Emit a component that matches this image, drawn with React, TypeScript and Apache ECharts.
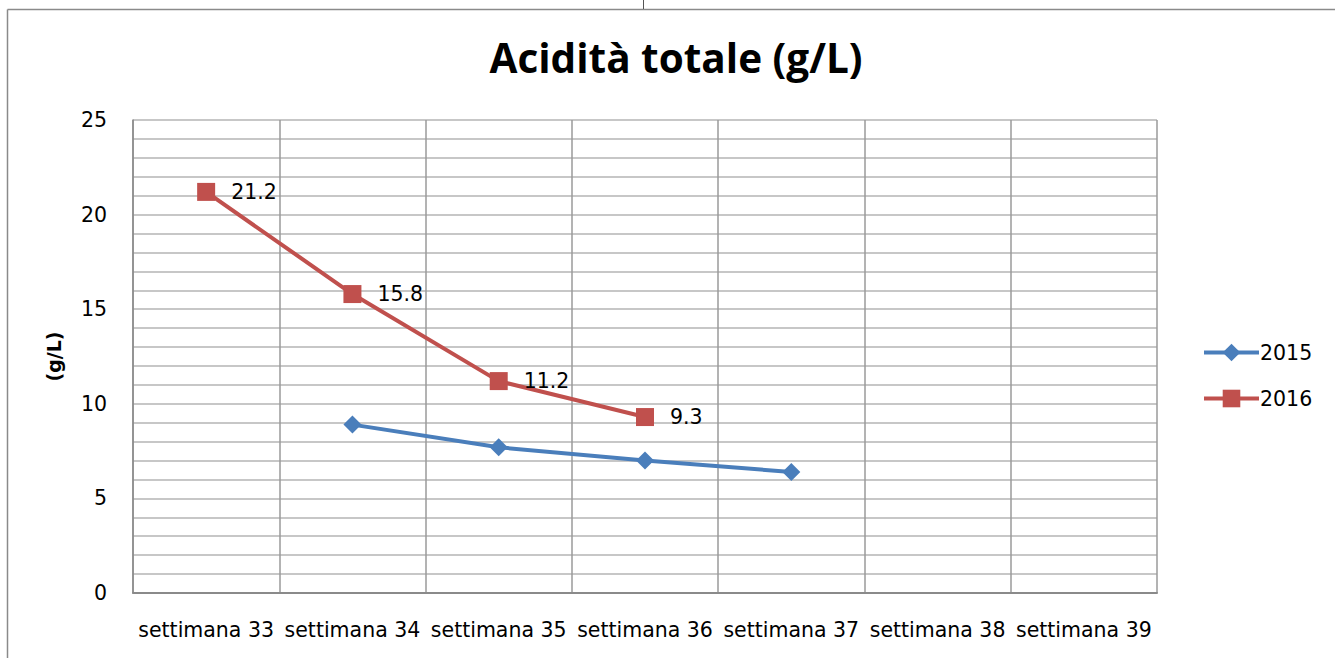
import React, { useEffect, useRef } from "react";
import * as echarts from "echarts";

const categories = [
  "settimana 33",
  "settimana 34",
  "settimana 35",
  "settimana 36",
  "settimana 37",
  "settimana 38",
  "settimana 39",
];
const values2015: (number | null)[] = [null, 8.9, 7.7, 7.0, 6.4, null, null];
const values2016: (number | null)[] = [21.2, 15.8, 11.2, 9.3, null, null, null];

const FONT = "'DejaVu Sans', sans-serif";

export default function App() {
  const ref = useRef<HTMLDivElement>(null);
  useEffect(() => {
    document.body.style.margin = "0";
    const chart = echarts.init(ref.current!, undefined, { renderer: "svg" });
    chart.setOption({
      animation: false,
      backgroundColor: "#ffffff",
      title: {
        text: "Acidità totale (g/L)",
        left: 671,
        top: 32,
        textAlign: "center",
        textStyle: { fontFamily: "'Open Sans', sans-serif", fontWeight: "bold", fontSize: 40.5, color: "#000" },
      },
      graphic: [
        { type: "line", shape: { x1: 7.5, y1: 9.5, x2: 1335, y2: 9.5 }, style: { stroke: "#8a8a8a", lineWidth: 1.5 } },
        { type: "line", shape: { x1: 7.5, y1: 9.5, x2: 7.5, y2: 658 }, style: { stroke: "#8a8a8a", lineWidth: 1.5 } },
        { type: "line", shape: { x1: 643.5, y1: 0, x2: 643.5, y2: 9 }, style: { stroke: "#555", lineWidth: 1 } },
      ],
      legend: {
        orient: "vertical",
        left: 1197,
        top: 337,
        itemGap: 25,
        itemWidth: 55,
        itemHeight: 22,
        lineStyle: { width: 4 },
        textStyle: { fontFamily: FONT, fontSize: 20.5, color: "#000", padding: [0, 0, 0, -4] },
        data: ["2015", "2016"],
      },
      grid: { left: 133, right: 178, top: 120, bottom: 65, containLabel: false },
      xAxis: {
        type: "category",
        data: categories,
        boundaryGap: true,
        axisLine: { show: true, lineStyle: { color: "#8a8a8a", width: 2 } },
        axisTick: { show: false },
        splitLine: { show: true, lineStyle: { color: "#9a9a9a", width: 1.5 } },
        axisLabel: { fontFamily: FONT, fontSize: 20.5, color: "#000", margin: 26, interval: 0 },
      },
      yAxis: {
        type: "value",
        min: 0,
        max: 25,
        interval: 5,
        name: "(g/L)",
        nameLocation: "middle",
        nameGap: 70,
        nameTextStyle: { fontFamily: FONT, fontWeight: "bold", fontSize: 19, color: "#000" },
        axisLine: { show: true, lineStyle: { color: "#8a8a8a", width: 1.5 } },
        axisTick: { show: false },
        axisLabel: { fontFamily: FONT, fontSize: 20.5, color: "#000", margin: 26 },
        splitLine: { show: true, lineStyle: { color: "#b4b4b4", width: 1.5 } },
        minorTick: { show: false, splitNumber: 5 },
        minorSplitLine: { show: true, lineStyle: { color: "#b4b4b4", width: 1.5 } },
      },
      series: [
        {
          name: "2015",
          type: "line",
          data: values2015,
          symbol: "diamond",
          symbolSize: 18,
          color: "#4a7ebb",
          lineStyle: { width: 4, color: "#4a7ebb" },
          itemStyle: { color: "#4a7ebb" },
        },
        {
          name: "2016",
          type: "line",
          data: values2016,
          symbol: "rect",
          symbolSize: 18,
          color: "#c0504d",
          lineStyle: { width: 4, color: "#c0504d" },
          itemStyle: { color: "#c0504d" },
          label: {
            show: true,
            position: "right",
            distance: 16,
            fontFamily: FONT,
            fontSize: 20.5,
            color: "#000",
          },
        },
      ],
    });
    return () => chart.dispose();
  }, []);
  return <div ref={ref} style={{ width: 1335, height: 658 }} />;
}
